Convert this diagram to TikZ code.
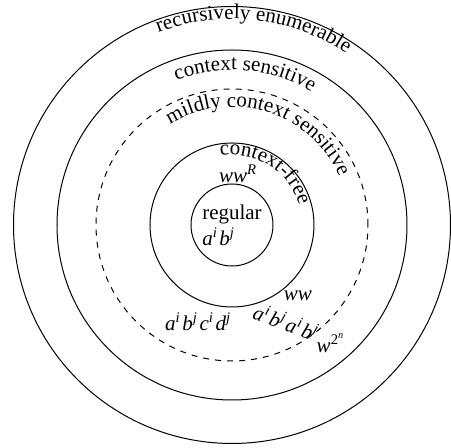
\documentclass[tikz,border=0pt]{standalone}
\usepackage{fontspec}
\setmainfont{Liberation Serif}
\usetikzlibrary{decorations.text}
\newcommand\itsup[2]{\textit{#1}\textsuperscript{\textit{#2}}\kern0.8pt}
\begin{document}
\begin{tikzpicture}[x=0.5pt,y=0.5pt,
  ring/.style={line width=0.5pt},
  lbl/.style={inner sep=0pt,font=\fontsize{10.5}{12}\selectfont},
  curvelbl/.style={decorate,decoration={text along path,text={|\fontsize{10.5}{12}\selectfont|#1},text align=center}}]
\useasboundingbox (-232,-223) rectangle (219,225);
\coordinate (c) at (0,0);
\draw[ring] (c) circle[radius=41];
\draw[ring] (c) circle[radius=82];
\draw[ring,dashed] (c) circle[radius=136];
\draw[ring] (c) circle[radius=175];
\draw[ring] (c) circle[radius=218.5];
% curved labels
\path[curvelbl={recursively enumerable}] (143.6:206) arc[start angle=143.6,end angle=23.6,radius=206];
\path[curvelbl={context sensitive}] (145:155) arc[start angle=145,end angle=25,radius=155];
\path[curvelbl={mildly context sensitive}] (143:118) arc[start angle=143,end angle=3,radius=118];
\path[curvelbl={context-free}] (123:70) arc[start angle=123,end angle=-7,radius=70];
% labels
\node[lbl,align=left] (reg) at (0,0) {regular\\[1pt]\itsup{a}{i}\itsup{b}{j}};
\node[lbl] (wwr) at (7,51) {\itsup{ww}{R}};
\node[lbl] (ww) at (66,-71) {\textit{ww}};
\node[lbl,rotate=-20] (abab) at (55,-97) {\itsup{a}{i}\itsup{b}{j}\itsup{a}{i}\itsup{b}{j}};
\node[lbl] (abcd) at (-33,-97) {\itsup{a}{i}\itsup{b}{j}\itsup{c}{i}\itsup{d}{j}};
\node[lbl] (w2n) at (99,-118) {\textit{w}\textsuperscript{2\textsuperscript{\textit{n}}}};
\end{tikzpicture}
\end{document}
